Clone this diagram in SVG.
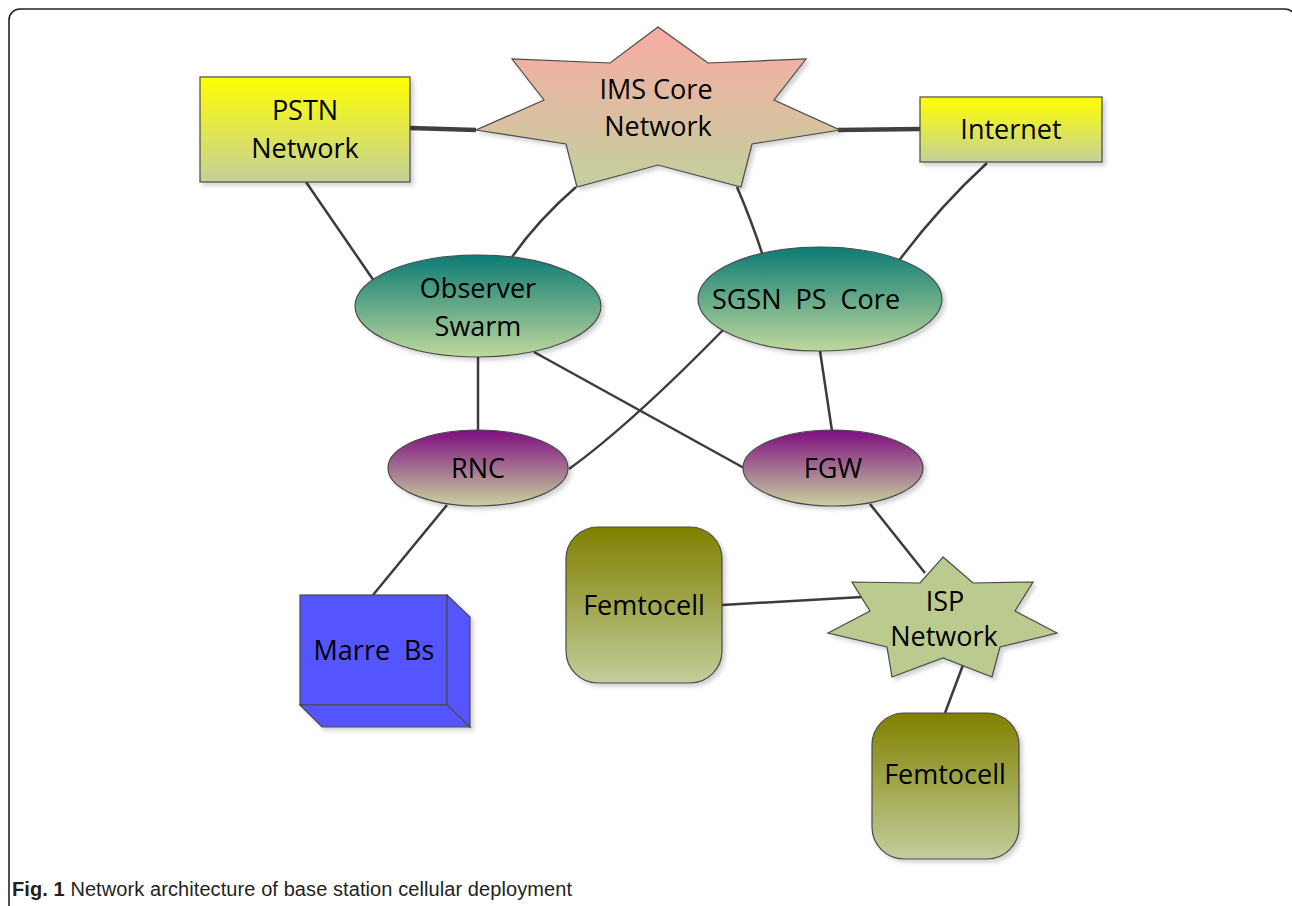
<svg xmlns="http://www.w3.org/2000/svg" width="1292" height="906" viewBox="0 0 1292 906">
  <defs>
    <linearGradient id="gYellow" x1="0" y1="0" x2="0" y2="1">
      <stop offset="0" stop-color="#FFFF00"/>
      <stop offset="1" stop-color="#C4D09A"/>
    </linearGradient>
    <linearGradient id="gPink" x1="0" y1="0" x2="0" y2="1">
      <stop offset="0" stop-color="#F8AAA4"/>
      <stop offset="1" stop-color="#C4D09E"/>
    </linearGradient>
    <linearGradient id="gTeal" x1="0" y1="0" x2="0" y2="1">
      <stop offset="0" stop-color="#0C7B75"/>
      <stop offset="1" stop-color="#BFD89C"/>
    </linearGradient>
    <linearGradient id="gPurple" x1="0" y1="0" x2="0" y2="1">
      <stop offset="0" stop-color="#7E0C80"/>
      <stop offset="1" stop-color="#C8D2A0"/>
    </linearGradient>
    <linearGradient id="gOlive" x1="0" y1="0" x2="0" y2="1">
      <stop offset="0" stop-color="#808000"/>
      <stop offset="1" stop-color="#C2CE9C"/>
    </linearGradient>
    <filter id="shadow" x="-10%" y="-10%" width="125%" height="125%">
      <feDropShadow dx="3" dy="3" stdDeviation="2" flood-color="#000" flood-opacity="0.18"/>
    </filter>
  </defs>
  <style>
    .node { stroke: #4a4a4a; stroke-width: 1.2; filter: url(#shadow); }
    .lbl { font-family: "Open Sans", "Liberation Sans", sans-serif; font-size: 27px; fill: #000; text-anchor: middle; }
    .link { fill: none; stroke: #3c3c3c; stroke-width: 2.5; }
    .thick { fill: none; stroke: #404040; stroke-width: 4.5; }
    .cap { font-family: "Liberation Sans", Arial, sans-serif; font-size: 20px; fill: #231F20; }
  </style>

  <rect width="1292" height="906" fill="#FFFFFF"/>
  <!-- outer frame -->
  <rect x="9" y="9" width="1287" height="940" rx="11" ry="11" fill="none" stroke="#222" stroke-width="1.6"/>

  <!-- connectors -->
  <g id="connectors">
    <line class="thick" x1="410" y1="128" x2="476" y2="130"/>
    <line class="thick" x1="838" y1="130" x2="920" y2="129"/>
    <path class="link" d="M306,182 Q336,226 374,281"/>
    <path class="link" d="M576,187 Q538,220 512,257"/>
    <path class="link" d="M737,187 Q752,222 763,256"/>
    <path class="link" d="M987,163 Q938,208 898,262"/>
    <line class="link" x1="478" y1="357" x2="478" y2="431"/>
    <line class="link" x1="534" y1="352" x2="744" y2="468"/>
    <path class="link" d="M724,329 Q630,425 569,469"/>
    <line class="link" x1="820" y1="351" x2="832" y2="431"/>
    <line class="link" x1="447" y1="505" x2="373" y2="595"/>
    <line class="link" x1="870" y1="504" x2="925" y2="573"/>
    <line class="link" x1="722" y1="605" x2="862" y2="597"/>
    <line class="link" x1="963" y1="665" x2="945" y2="713"/>
  </g>

  <g id="pstn">
    <rect class="node" x="200" y="77" width="210" height="105" fill="url(#gYellow)"/>
    <text class="lbl" x="305" y="120">PSTN</text>
    <text class="lbl" x="305" y="158">Network</text>
  </g>

  <g id="ims-core">
    <polygon class="node" fill="url(#gPink)"
      points="658,27 708,63 806,59 774,100 840,130 752,144 741,187 658,165 577,187 566,144 476,130 544,100 512,59 610,63"/>
    <text class="lbl" x="656" y="99">IMS Core</text>
    <text class="lbl" x="658" y="136">Network</text>
  </g>

  <g id="internet">
    <rect class="node" x="920" y="97" width="182" height="65" fill="url(#gYellow)"/>
    <text class="lbl" x="1011" y="139">Internet</text>
  </g>

  <g id="observer-swarm">
    <ellipse class="node" cx="478" cy="306" rx="123" ry="51" fill="url(#gTeal)"/>
    <text class="lbl" x="478" y="298">Observer</text>
    <text class="lbl" x="478" y="336">Swarm</text>
  </g>

  <g id="sgsn-ps-core">
    <ellipse class="node" cx="820" cy="299" rx="122" ry="52" fill="url(#gTeal)"/>
    <text class="lbl" x="806" y="309" xml:space="preserve">SGSN  PS  Core</text>
  </g>

  <g id="rnc">
    <ellipse class="node" cx="478" cy="468" rx="90" ry="38" fill="url(#gPurple)"/>
    <text class="lbl" x="478" y="478">RNC</text>
  </g>

  <g id="fgw">
    <ellipse class="node" cx="833" cy="468" rx="90" ry="38" fill="url(#gPurple)"/>
    <text class="lbl" x="833" y="478">FGW</text>
  </g>

  <g id="marre-bs">
    <g class="node" fill="#5555FF">
      <rect x="300" y="595" width="147" height="110"/>
      <polygon points="447,595 470,617 470,727 447,705"/>
      <polygon points="300,705 447,705 470,727 322,727"/>
    </g>
    <text class="lbl" x="374" y="660" xml:space="preserve">Marre  Bs</text>
  </g>

  <g id="femtocell-1">
    <rect class="node" x="566" y="527" width="156" height="156" rx="32" ry="32" fill="url(#gOlive)"/>
    <text class="lbl" x="644" y="615">Femtocell</text>
  </g>

  <g id="isp-network">
    <polygon class="node" fill="#BBCA8F"
      points="943,557 973,583 1033,582 1015,611 1057,633 1000,647 992,677 943,658 892,677 887,647 828,633 870,611 852,582 920,583"/>
    <text class="lbl" x="945" y="611" font-size="26">ISP</text>
    <text class="lbl" x="944" y="646" font-size="26">Network</text>
  </g>

  <g id="femtocell-2">
    <rect class="node" x="872" y="713" width="147" height="146" rx="32" ry="32" fill="url(#gOlive)"/>
    <text class="lbl" x="945" y="784">Femtocell</text>
  </g>

  <text class="cap" x="12" y="896" textLength="560" lengthAdjust="spacing"><tspan font-weight="bold">Fig. 1</tspan> Network architecture of base station cellular deployment</text>
</svg>
